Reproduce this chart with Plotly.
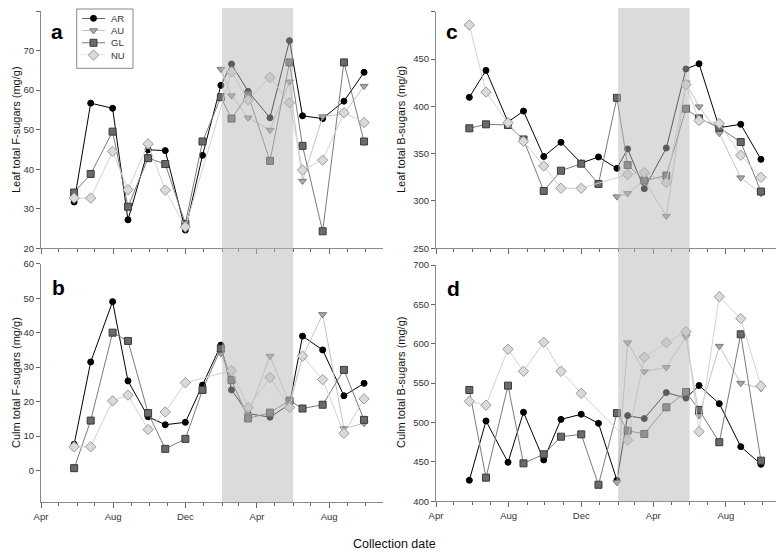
import plotly.graph_objects as go

# ---------------- data ----------------
dates = ["2010-05-27", "2010-06-24", "2010-07-31", "2010-08-26", "2010-09-29",
         "2010-10-28", "2010-12-01", "2010-12-30", "2011-01-30", "2011-02-17",
         "2011-03-17", "2011-04-23", "2011-05-26", "2011-06-17", "2011-07-21",
         "2011-08-26", "2011-09-29"]
series_names = ["AR", "AU", "GL", "NU"]
N = None

# panel a: Leaf total F-sugars
AR_a = [31.7, 56.7, 55.4, 27.2, 44.9, 44.7, 24.6, 43.5, 61.2, 66.6, 59.7, 53.0, 72.5, 53.5, 52.8, 57.2, 64.5]
AU_a = [N, N, N, N, N, N, N, N, 65.3, 58.6, 53.0, 49.9, 62.1, 37.0, 53.3, 54.0, 61.0]
GL_a = [34.1, 38.8, 49.5, 30.5, 42.8, 41.3, 26.2, 47.0, 58.2, 52.8, 58.8, 42.1, 67.0, 45.9, 24.3, 67.0, 47.0]
NU_a = [32.7, 32.7, 44.5, 34.8, 46.4, 34.7, 25.4, N, N, 64.6, 57.5, 63.2, 56.8, 39.8, 42.3, 54.3, 51.8]

# panel b: Culm total F-sugars
AR_b = [7.6, 31.5, 49.0, 26.0, 15.6, 13.3, 14.0, 24.8, 36.4, 23.4, 16.5, 15.5, 19.2, 39.0, 35.0, 21.7, 25.3]
AU_b = [N, N, N, N, N, N, N, N, 34.0, 26.0, 16.0, 33.2, 19.5, 33.0, 45.3, 12.2, 13.7]
GL_b = [0.7, 14.5, 40.0, 37.6, 16.7, 6.3, 9.2, 23.4, 35.4, 26.3, 15.1, 16.8, 20.3, 18.0, 19.1, 29.2, 14.7]
NU_b = [6.9, 6.9, 20.2, 21.9, 11.9, 17.0, 25.5, N, N, 29.0, 18.3, 27.0, 18.3, 33.2, 26.4, 10.8, 20.8]

# panel c: Leaf total B-sugars
AR_c = [409.5, 438, 383.5, 395, 347, 362, 340, 346.5, 334.5, 355, 313, 356, 439.5, 445, 377.5, 381, 344]
AU_c = [N, N, N, N, N, N, N, N, 304.6, 308, 322, 284, 425, 399.6, 371.5, 324.6, 308]
GL_c = [376.8, 381, 380.3, 365, 310.6, 332, 339.4, 318, 409, 338, 321.5, 326.8, 397.5, 387.3, 377.5, 362.3, 310]
NU_c = [486, 415, 382.7, 363, 337, 313.4, 313.4, N, N, 328, 330, 319.4, 423, 385, 382, 348.4, 325]

# panel d: Culm total B-sugars
AR_d = [426.7, 502, 449.5, 513, 452.5, 504, 510.5, 499, 426.7, 508.8, 505, 538, 531, 547, 524, 469.4, 447]
AU_d = [N, N, N, N, N, N, N, N, 424, 601.4, 564.6, 570, 609, 509, 597, 550, 543.5]
GL_d = [541.3, 430, 546.8, 448.2, 459.7, 482, 485, 421, 512, 489.7, 485.5, 519.3, 538.8, 516, 475, 612, 451.6]
NU_d = [527, 522, 593, 565, 602, 565, 537, N, N, 477.8, 583, 601.4, 615.4, 488.4, 659.8, 632, 546.4]

panel_letters = ["a", "b", "c", "d"]
y_titles = ["Leaf total F-sugars (mg/g)", "Culm total F-sugars (mg/g)",
            "Leaf total B-sugars (mg/g)", "Culm total B-sugars (mg/g)"]
x_title = "Collection date"
x_range = ["2010-04-01", "2011-10-31"]
shade_period = ["2011-02-01", "2011-06-01"]

# ---------------- styles ----------------
OFF = 8                      # default page body margin
W, H = 784 - OFF, 554 - OFF  # figure fills the rest of the window
FONT = "Arial, Liberation Sans, sans-serif"
styles = {
    "AR": dict(symbol="circle", size=6, fill="#000000", edge="#000000", line="#000000"),
    "AU": dict(symbol="triangle-down", size=7, fill="#a8a8a8", edge="#7a7a7a", line="#c4c4c4"),
    "GL": dict(symbol="square", size=7, fill="#6a6a6a", edge="#3a3a3a", line="#7a7a7a"),
    "NU": dict(symbol="diamond", size=8, fill="#dadada", edge="#9a9a9a", line="#d2d2d2"),
}

def px_x(p):
    return (p - OFF) / W

def px_y(p):
    return 1 - (p - OFF) / H

panels = [
    dict(data=[AR_a, AU_a, GL_a, NU_a], xa="x", ya="y",
         xdom=[px_x(41), px_x(383)], ydom=[px_y(248.3), px_y(11)], yr=[20, 80], dt=10, labels=False),
    dict(data=[AR_b, AU_b, GL_b, NU_b], xa="x2", ya="y2",
         xdom=[px_x(41), px_x(383)], ydom=[px_y(502.3), px_y(263.7)], yr=[-9.2, 60], dt=10, labels=True),
    dict(data=[AR_c, AU_c, GL_c, NU_c], xa="x3", ya="y3",
         xdom=[px_x(436), px_x(780)], ydom=[px_y(248.3), px_y(11.7)], yr=[250, 500], dt=50, labels=False),
    dict(data=[AR_d, AU_d, GL_d, NU_d], xa="x4", ya="y4",
         xdom=[px_x(436), px_x(780)], ydom=[px_y(501.3), px_y(265)], yr=[400, 700], dt=50, labels=True),
]

fig = go.Figure()
layout = dict(width=W, height=H, margin=dict(l=0, r=0, t=0, b=0),
              paper_bgcolor="white", plot_bgcolor="white", showlegend=False,
              font=dict(family=FONT, size=10, color="#333333"))

for i, p in enumerate(panels):
    for name, vals in zip(series_names, p["data"]):
        s = styles[name]
        fig.add_trace(go.Scatter(
            x=dates, y=vals, name=name, mode="lines+markers", connectgaps=True,
            xaxis=p["xa"], yaxis=p["ya"], cliponaxis=False,
            line=dict(color=s["line"], width=1),
            marker=dict(symbol=s["symbol"], size=s["size"], color=s["fill"],
                        line=dict(color=s["edge"], width=1))))
    xk = "xaxis" + ("" if i == 0 else str(i + 1))
    yk = "yaxis" + ("" if i == 0 else str(i + 1))
    layout[xk] = dict(type="date", domain=p["xdom"], anchor=p["ya"], range=x_range,
                      tick0="2010-04-01", dtick="M4", tickformat="%b",
                      showticklabels=p["labels"], ticks="outside", ticklen=5,
                      tickcolor="#666666", showline=True, linecolor="#8a8a8a", linewidth=1,
                      showgrid=False, zeroline=False, automargin=False,
                      tickfont=dict(size=9.5, color="#333333"),
                      minor=dict(dtick="M1", tick0="2010-04-01", ticks="outside",
                                 ticklen=3, tickcolor="#666666", showgrid=False))
    layout[yk] = dict(domain=p["ydom"], anchor=p["xa"], range=p["yr"], dtick=p["dt"],
                      tick0=0, ticks="outside", ticklen=4, tickcolor="#666666",
                      showline=True, linecolor="#8a8a8a", linewidth=1,
                      showgrid=False, zeroline=False, automargin=False,
                      tickfont=dict(size=9.5, color="#333333"))

# custom compact legend on its own small axis
layout["xaxis5"] = dict(domain=[px_x(82), px_x(105)], range=[0, 1], anchor="y5",
                        visible=False, fixedrange=True)
layout["yaxis5"] = dict(domain=[px_y(55), px_y(18.3)], range=[len(series_names) - 1, 0],
                        anchor="x5", visible=False, fixedrange=True)
annotations = []
for k, name in enumerate(series_names):
    s = styles[name]
    fig.add_trace(go.Scatter(x=[0, 1], y=[k, k], mode="lines", xaxis="x5", yaxis="y5",
                             cliponaxis=False, line=dict(color=s["line"], width=1),
                             hoverinfo="skip"))
    fig.add_trace(go.Scatter(x=[0.5], y=[k], mode="markers", xaxis="x5", yaxis="y5",
                             cliponaxis=False, hoverinfo="skip",
                             marker=dict(symbol=s["symbol"], size=s["size"], color=s["fill"],
                                         line=dict(color=s["edge"], width=1))))
    annotations.append(dict(x=1, y=k, xref="x5", yref="y5", text=name, showarrow=False,
                            xanchor="left", yanchor="middle", xshift=4,
                            font=dict(size=9.5, color="#333333", family=FONT)))

shapes = [
    dict(type="rect", xref="paper", yref="paper", x0=px_x(76.7), x1=px_x(133),
         y0=px_y(68.3), y1=px_y(9), line=dict(color="#888888", width=1), fillcolor="rgba(0,0,0,0)"),
    dict(type="rect", xref="x", yref="paper", x0=shade_period[0], x1=shade_period[1],
         y0=px_y(502), y1=px_y(2), line=dict(width=0), fillcolor="#b8b8b8", opacity=0.5,
         layer="above"),
    dict(type="rect", xref="x3", yref="paper", x0=shade_period[0], x1=shade_period[1],
         y0=px_y(501.3), y1=px_y(2), line=dict(width=0), fillcolor="#b8b8b8", opacity=0.5,
         layer="above"),
]

letter_pos = [(56.5, 31.5), (58.5, 287), (452, 31.5), (453.5, 288)]
for letter, (lx, ly) in zip(panel_letters, letter_pos):
    annotations.append(dict(x=px_x(lx), y=px_y(ly), xref="paper", yref="paper", text="<b>%s</b>" % letter,
                            showarrow=False, xanchor="center", yanchor="middle",
                            font=dict(size=21, color="#000000", family=FONT)))

title_pos = [(16, 130), (16, 383), (401, 130), (401, 383)]
for t, (tx, ty) in zip(y_titles, title_pos):
    annotations.append(dict(x=px_x(tx), y=px_y(ty), xref="paper", yref="paper", text=t,
                            textangle=-90, showarrow=False, xanchor="center", yanchor="middle",
                            borderpad=0, font=dict(size=11, color="#111111", family=FONT)))

annotations.append(dict(x=px_x(394), y=px_y(544), xref="paper", yref="paper", text=x_title,
                        showarrow=False, xanchor="center", yanchor="middle",
                        font=dict(size=12.5, color="#111111", family=FONT)))

layout["shapes"] = shapes
layout["annotations"] = annotations
fig.update_layout(**layout)
fig.write_html("out.html")
